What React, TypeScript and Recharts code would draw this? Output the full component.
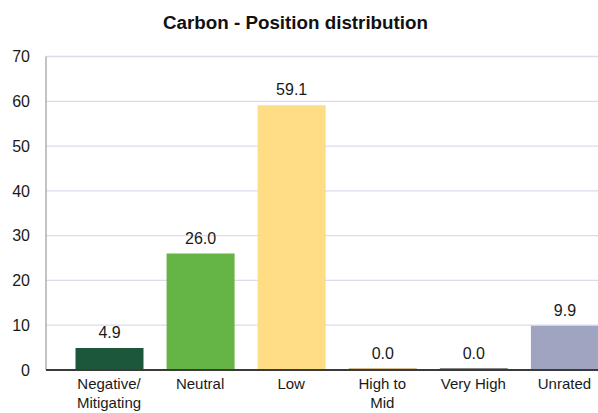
import { Bar, BarChart, CartesianGrid, Cell, LabelList, XAxis, YAxis } from 'recharts';

const categories = ['Negative/\nMitigating', 'Neutral', 'Low', 'High to\nMid', 'Very High', 'Unrated'];
const shares = [4.9, 26.0, 59.1, 0.0, 0.0, 9.9];
const yTicks = [0, 10, 20, 30, 40, 50, 60, 70];

const palette = ['#1d573a', '#64b446', '#fedd85', '#b07820', '#151515', '#9fa4c1'];

const data = categories.map((name, i) => ({ name, value: shares[i] }));

const FONT = '"Liberation Sans", Arial, sans-serif';

const CategoryTick = (props: any) => {
    const { x, y, payload } = props;
    const lines = String(payload.value).split('\n');
    return (
        <text x={x} y={y} textAnchor="middle" fill="#1a1a1a" fontSize={15} fontFamily={FONT}>
            {lines.map((line, i) => (
                <tspan key={i} x={x} dy={i === 0 ? 11 : 19}>
                    {line}
                </tspan>
            ))}
        </text>
    );
};

const App = () => {
    return (
        <div style={{ position: 'absolute', left: 0, top: 0, width: 598, height: 413, overflow: 'hidden', background: '#fff' }}>
            <svg width={598} height={40} style={{ position: 'absolute', left: 0, top: 0 }}>
                <text x={295.5} y={29} textAnchor="middle" fontSize={18.8} fontWeight="bold" fontFamily={FONT} fill="#111">
                    Carbon - Position distribution
                </text>
            </svg>
            <div style={{ position: 'absolute', left: 0, top: 0 }}>
                <BarChart
                    width={612}
                    height={413}
                    data={data}
                    margin={{ top: 56.5, right: 2, bottom: 0, left: 0 }}
                    barSize={68}
                >
                    <CartesianGrid horizontal vertical={false} stroke="#d9dcec" strokeWidth={1.3} />
                    <YAxis
                        width={46}
                        domain={[0, 70]}
                        ticks={yTicks}
                        interval={0}
                        tickLine={false}
                        axisLine={{ stroke: '#888', strokeWidth: 1 }}
                        tickMargin={10}
                        tick={{ fill: '#1a1a1a', fontSize: 16, fontFamily: FONT }}
                    />
                    <XAxis
                        dataKey="name"
                        height={43}
                        interval={0}
                        padding={{ left: 17.5, right: 0 }}
                        tickLine={false}
                        axisLine={{ stroke: '#3a3a3a', strokeWidth: 2 }}
                        tick={<CategoryTick />}
                    />
                    <Bar dataKey="value" isAnimationActive={false} minPointSize={1.5}>
                        {data.map((d, i) => (
                            <Cell key={d.name} fill={palette[i]} />
                        ))}
                        <LabelList
                            dataKey="value"
                            position="top"
                            offset={10}
                            formatter={(v: any) => Number(v).toFixed(1)}
                            style={{ fill: '#1a1a1a', fontSize: 16, fontFamily: FONT }}
                        />
                    </Bar>
                </BarChart>
            </div>
        </div>
    );
};

export default App;
